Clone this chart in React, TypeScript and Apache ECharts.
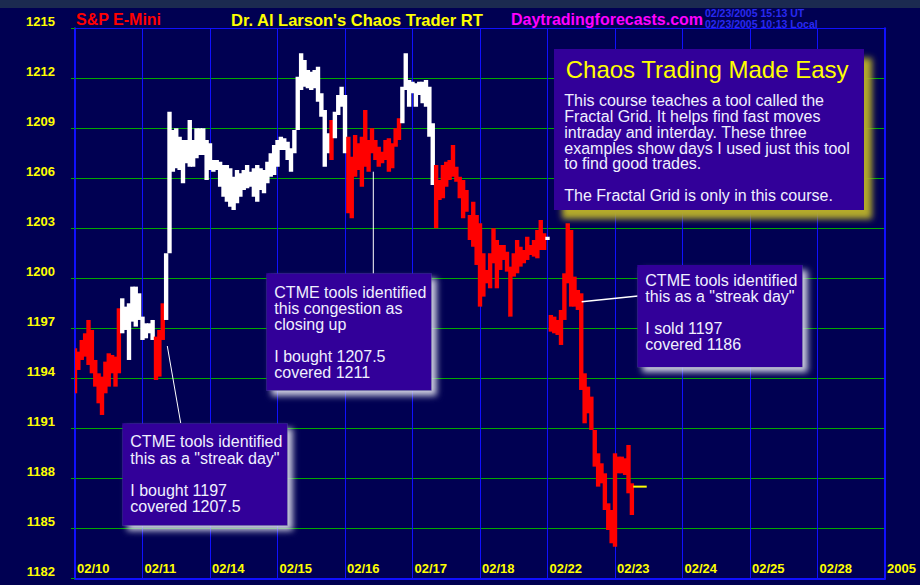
import React, { useEffect, useRef } from "react";
import * as echarts from "echarts";

// ---- axis / tick labels ----
const dayLabels = ["02/10", "02/11", "02/14", "02/15", "02/16", "02/17", "02/18", "02/22", "02/23", "02/24", "02/25", "02/28", "2005"];
const yMin = 1182;
const yMax = 1215;
const yStep = 3;

// ---- intraday price bars (one bar every 1/20 of a trading day) ----
const barStep = 0.05;
const priceHigh = [
  1195.8, 1195.6, 1196.3, 1196.7, 1197.5, 1196.9, 1195.1, 1194.3, 1194.1, 1195.0,
  1195.5, 1195.4, 1195.3, 1198.2, 1198.8, 1198.3, 1198.5, 1199.5, 1199.5, 1199.1,
  1197.7, 1197.3, 1197.3, 1197.5, 1196.5, 1196.9, 1198.5, 1201.5, 1210.0, 1208.9,
  1209.0, 1208.5, 1208.3, 1208.3, 1209.5, 1208.3, 1209.0, 1209.0, 1209.0, 1208.3,
  1208.1, 1207.1, 1207.1, 1207.0, 1206.8, 1206.8, 1206.6, 1206.1, 1206.5, 1206.3,
  1206.5, 1206.8, 1206.4, 1206.6, 1206.8, 1206.6, 1206.5, 1207.0, 1207.5, 1208.0,
  1208.3, 1208.5, 1208.4, 1208.2, 1207.8, 1208.9, 1212.1, 1213.5, 1213.1, 1212.5,
  1212.4, 1212.5, 1212.7, 1211.1, 1210.1, 1208.7, 1209.5, 1210.0, 1211.0, 1211.5,
  1211.0, 1208.5, 1207.3, 1208.6, 1208.1, 1208.5, 1210.1, 1208.3, 1209.0, 1208.3,
  1207.9, 1207.6, 1208.3, 1208.4, 1208.1, 1209.0, 1209.6, 1211.5, 1213.5, 1211.9,
  1211.8, 1211.7, 1211.8, 1211.8, 1211.9, 1211.5, 1209.3, 1206.8, 1205.9, 1206.8,
  1207.0, 1207.1, 1208.0, 1206.7, 1206.1, 1205.9, 1205.3, 1203.8, 1204.6, 1203.8,
  1203.3, 1201.5, 1200.5, 1201.5, 1203.0, 1202.3, 1202.0, 1202.0, 1201.6, 1200.7,
  1201.5, 1202.3, 1201.9, 1201.7, 1202.5, 1202.0, 1202.3, 1202.9, 1203.5, 1202.7,
  1202.5, 1197.8, 1197.7, 1197.5, 1198.1, 1200.3, 1203.3, 1202.9, 1200.1, 1199.3,
  1199.1, 1194.3, 1193.5, 1192.9, 1190.9, 1189.5, 1188.9, 1188.3, 1186.5, 1186.1,
  1189.5, 1189.3, 1189.3, 1189.2, 1190.0, 1187.7,
];
const priceLow = [
  1193.1, 1194.5, 1195.1, 1195.3, 1194.8, 1194.3, 1193.5, 1192.5, 1191.8, 1193.1,
  1193.5, 1194.3, 1193.5, 1194.3, 1196.7, 1196.9, 1195.1, 1197.4, 1197.1, 1197.5,
  1196.3, 1196.4, 1196.7, 1196.3, 1193.9, 1194.1, 1196.3, 1197.5, 1201.5, 1206.4,
  1206.6, 1206.5, 1205.7, 1206.9, 1206.7, 1206.7, 1207.2, 1207.4, 1207.4, 1205.9,
  1206.5, 1206.4, 1206.5, 1205.5, 1204.9, 1204.6, 1204.3, 1204.1, 1204.5, 1204.9,
  1205.3, 1205.4, 1205.5, 1204.9, 1204.6, 1205.3, 1205.1, 1205.7, 1206.1, 1206.2,
  1206.7, 1207.7, 1207.7, 1207.1, 1206.4, 1207.5, 1208.9, 1211.3, 1211.5, 1211.4,
  1211.3, 1211.4, 1210.6, 1209.7, 1206.7, 1207.5, 1207.1, 1208.4, 1209.8, 1210.3,
  1207.5, 1203.9, 1203.6, 1206.1, 1206.5, 1205.5, 1206.7, 1206.4, 1207.5, 1207.1,
  1206.7, 1206.9, 1207.1, 1206.4, 1206.6, 1207.9, 1208.3, 1209.3, 1211.3, 1210.3,
  1211.1, 1210.3, 1211.0, 1210.5, 1210.3, 1208.5, 1205.6, 1203.0, 1204.7, 1204.8,
  1205.5, 1205.9, 1206.1, 1205.8, 1204.8, 1203.6, 1204.0, 1202.3, 1201.9, 1200.8,
  1198.3, 1198.9, 1199.7, 1199.4, 1200.9, 1199.4, 1200.5, 1201.1, 1200.4, 1197.7,
  1200.1, 1200.3, 1200.7, 1200.9, 1201.1, 1201.4, 1201.3, 1201.2, 1201.7, 1201.7,
  1202.3, 1196.8, 1196.7, 1196.6, 1196.0, 1197.5, 1199.7, 1198.3, 1198.3, 1198.1,
  1193.3, 1191.3, 1191.9, 1190.9, 1188.7, 1187.5, 1187.7, 1186.1, 1184.9, 1184.1,
  1183.9, 1188.3, 1188.3, 1188.2, 1187.1, 1185.8,
];
// bar index ranges drawn in red (the rest are white)
const redRuns = [[0, 13], [24, 26], [76, 76], [81, 96], [107, 139], [141, 165]];

// last price marker
const lastPrice = 1187.5;
const lastPriceFrom = 8.27;
const lastPriceTo = 8.47;

// ---- texts ----
const headerLeft = "S&P E-Mini";
const headerMid = "Dr. Al Larson's Chaos Trader RT";
const headerSite = "Daytradingforecasts.com";
const stampLines = ["02/23/2005 15:13 UT", "02/23/2005 10:13 Local"];
const promoTitle = "Chaos Trading Made Easy";
const promoBody = [
  "This course teaches a tool called the",
  "Fractal Grid. It helps find fast moves",
  "intraday and interday. These three",
  "examples show days I used just this tool",
  "to find good trades.",
  "",
  "The Fractal Grid is only in this course.",
];
const note1 = ["CTME tools identified", 'this as a "streak day"', "", "I bought 1197", "covered 1207.5"];
const note2 = ["CTME tools identified", "this congestion as", "closing up", "", "I bought 1207.5", "covered 1211"];
const note3 = ["CTME tools identified", 'this as a "streak day"', "", "I sold 1197", "covered 1186"];

const BG = "#000052";
const BOX = "#330099";
const BLUE = "#1010ff";
const GREEN = "#00a800";
const YELLOW = "#ffff00";
const SANS = '"Liberation Sans", Arial, sans-serif';

export default function App() {
  const ref = useRef<HTMLDivElement>(null);

  useEffect(() => {
    if (!ref.current) return;
    const chart = echarts.init(ref.current, null, { renderer: "svg" });

    const isRed = (i: number) => redRuns.some(([a, b]) => i >= a && i <= b);
    const bars = priceHigh.map((h, i) => [i * barStep, h, priceLow[i], isRed(i) ? 1 : 0]);

    const noteBox = (x: number, y: number, w: number, h: number, lines: string[], textTop: number, lh: number) => [
      {
        type: "rect",
        z: 50,
        shape: { x, y, width: w, height: h },
        style: {
          fill: BOX,
          shadowBlur: 6,
          shadowOffsetX: 5,
          shadowOffsetY: 5,
          shadowColor: "rgba(215,215,230,0.95)",
        },
      },
      {
        type: "text",
        z: 51,
        x: x + 8,
        y: textTop,
        style: {
          text: lines.join("\n"),
          fill: "#f0f0ff",
          font: `16px ${SANS}`,
          lineHeight: lh,
          verticalAlign: "top",
          align: "left",
        },
      },
    ];

    const option: any = {
      animation: false,
      backgroundColor: BG,
      grid: { left: 75, right: 35, top: 28.3, bottom: 6.7, containLabel: false },
      xAxis: [
        {
          type: "value",
          min: 0,
          max: 12,
          interval: 1,
          axisLine: { show: true, onZero: false, lineStyle: { color: BLUE, width: 2 } },
          axisTick: { show: false },
          splitLine: { show: true, lineStyle: { color: BLUE, width: 1 } },
          axisLabel: {
            inside: true,
            showMinLabel: true,
            showMaxLabel: true,
            align: "left",
            verticalAlign: "middle",
            margin: 10,
            padding: [0, 0, 0, 2],
            color: YELLOW,
            fontWeight: "bold",
            fontSize: 13,
            fontFamily: SANS,
            formatter: (v: number) => dayLabels[Math.round(v)] ?? "",
          },
        },
        {
          type: "value",
          position: "top",
          min: 0,
          max: 12,
          interval: 1,
          axisLine: { show: true, onZero: false, lineStyle: { color: BLUE, width: 1 } },
          axisTick: { show: false },
          axisLabel: { show: false },
          splitLine: { show: false },
        },
      ],
      yAxis: [
        {
          type: "value",
          min: yMin,
          max: yMax,
          interval: yStep,
          axisLine: { show: true, onZero: false, lineStyle: { color: BLUE, width: 2 } },
          axisTick: { show: true, length: 4, lineStyle: { color: GREEN, width: 1 } },
          splitLine: { show: true, lineStyle: { color: GREEN, width: 1 } },
          axisLabel: {
            margin: 20,
            align: "right",
            verticalAlign: "bottom",
            lineHeight: 13,
            color: YELLOW,
            fontWeight: "bold",
            fontSize: 13,
            fontFamily: SANS,
            showMinLabel: true,
            showMaxLabel: true,
            formatter: (v: number) => String(v),
          },
        },
        {
          type: "value",
          position: "right",
          min: yMin,
          max: yMax,
          interval: yStep,
          axisLine: { show: true, onZero: false, lineStyle: { color: BLUE, width: 2 } },
          axisTick: { show: false },
          axisLabel: { show: false },
          splitLine: { show: false },
        },
      ],
      series: [
        {
          type: "custom",
          clip: true,
          xAxisIndex: 0,
          yAxisIndex: 0,
          data: bars,
          encode: { x: 0, y: [1, 2] },
          renderItem: (params: any, api: any) => {
            const t = api.value(0);
            const top = api.coord([t, api.value(1)]);
            const bot = api.coord([t, api.value(2)]);
            const w = api.size([barStep, 0])[0] + 1;
            return {
              type: "rect",
              shape: { x: top[0] - w / 2, y: top[1], width: w, height: Math.max(bot[1] - top[1], 1.5) },
              style: { fill: api.value(3) ? "#ff0000" : "#ffffff" },
            };
          },
          z: 3,
        },
        {
          type: "line",
          xAxisIndex: 0,
          yAxisIndex: 0,
          data: [[lastPriceFrom, lastPrice], [lastPriceTo, lastPrice]],
          symbol: "none",
          lineStyle: { color: YELLOW, width: 2 },
          z: 4,
        },
      ],
      graphic: {
        elements: [
          { type: "rect", z: 40, shape: { x: 0, y: 0, width: 920, height: 8 }, style: { fill: "#1b2a50" } },
          { type: "text", z: 40, x: 76, y: 19.5, style: { text: headerLeft, fill: "#ff0000", font: `bold 16px ${SANS}`, verticalAlign: "middle" } },
          { type: "text", z: 40, x: 231, y: 19.5, style: { text: headerMid, fill: YELLOW, font: `bold 16.5px ${SANS}`, verticalAlign: "middle" } },
          { type: "text", z: 40, x: 511, y: 19.5, style: { text: headerSite, fill: "#ff00ff", font: `bold 16px ${SANS}`, verticalAlign: "middle" } },
          {
            type: "text",
            z: 41,
            x: 705,
            y: 18.5,
            style: { text: stampLines.join("\n"), fill: "#2a2af0", font: `bold 10.5px ${SANS}`, lineHeight: 10.6, verticalAlign: "middle" },
          },
          // connector lines
          { type: "line", z: 45, shape: { x1: 167.3, y1: 346, x2: 180.7, y2: 423 }, style: { stroke: "#ffffff", lineWidth: 1 } },
          { type: "line", z: 45, shape: { x1: 373.3, y1: 171.7, x2: 373.3, y2: 274 }, style: { stroke: "#ffffff", lineWidth: 1 } },
          { type: "line", z: 45, shape: { x1: 581.7, y1: 301.7, x2: 638, y2: 296 }, style: { stroke: "#ffffff", lineWidth: 1.5 } },
          // promo box
          {
            type: "rect",
            z: 50,
            shape: { x: 554, y: 49, width: 310, height: 161 },
            style: { fill: BOX, shadowBlur: 6, shadowOffsetX: 8, shadowOffsetY: 9, shadowColor: "#b4aa2a" },
          },
          { type: "text", z: 51, x: 565.7, y: 69, style: { text: promoTitle, fill: YELLOW, font: `24px ${SANS}`, verticalAlign: "middle" } },
          {
            type: "text",
            z: 51,
            x: 564.3,
            y: 92.8,
            style: { text: promoBody.join("\n"), fill: "#f0f0ff", font: `16px ${SANS}`, lineHeight: 15.8, verticalAlign: "top" },
          },
          ...noteBox(122.3, 423.3, 165.4, 102.4, note1, 433.6, 16.3),
          ...noteBox(266.3, 273.3, 165.4, 117.4, note2, 284.7, 16),
          ...noteBox(637.3, 265, 165.4, 102.3, note3, 272.7, 15.9),
        ],
      },
    };

    chart.setOption(option);
    return () => chart.dispose();
  }, []);

  return <div ref={ref} style={{ position: "absolute", left: 0, top: 0, width: 920, height: 585 }} />;
}
